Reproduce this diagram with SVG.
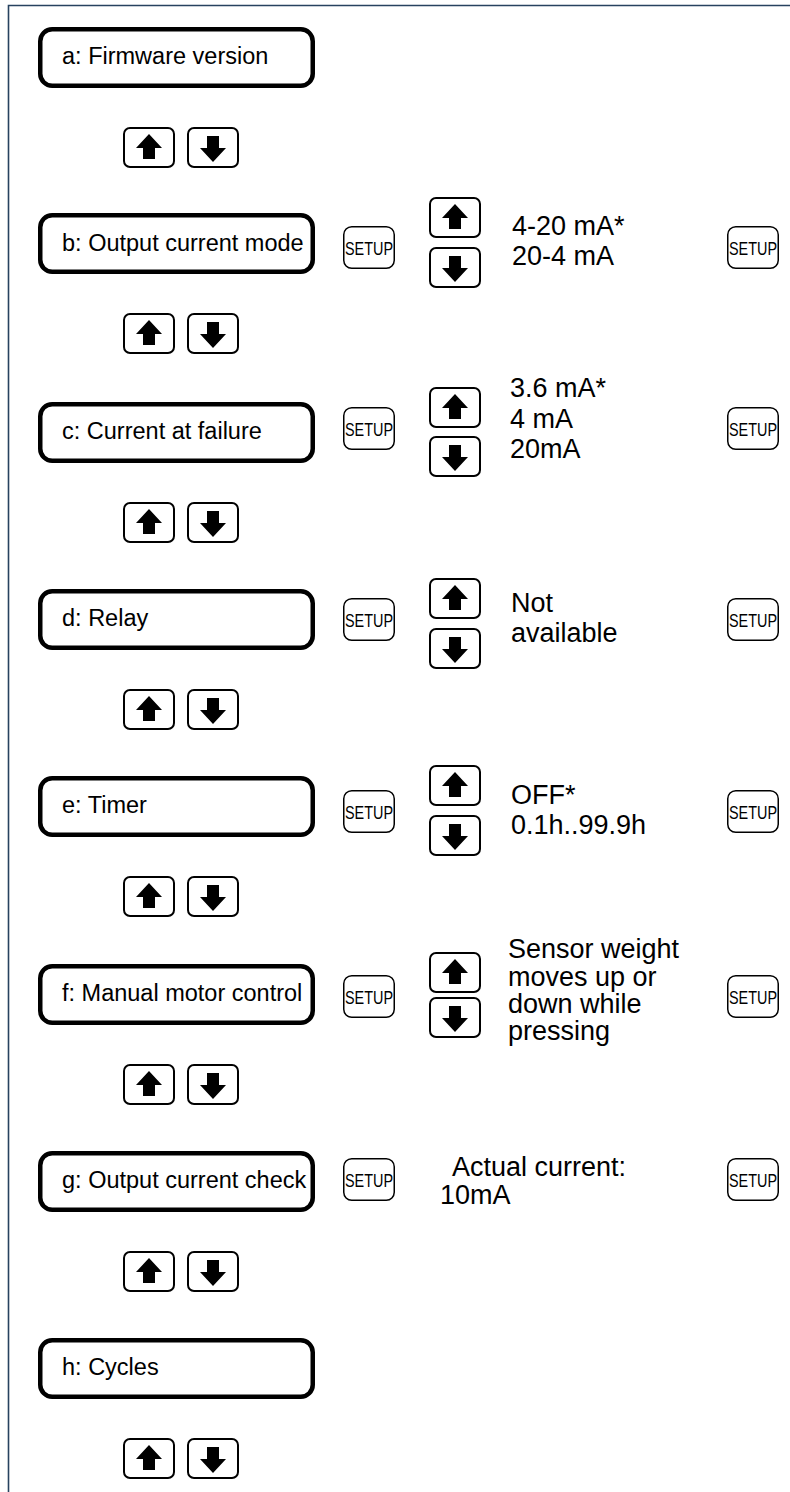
<svg xmlns="http://www.w3.org/2000/svg" xmlns:xlink="http://www.w3.org/1999/xlink" width="790" height="1492" viewBox="0 0 790 1492">
<style>
.frame{fill:none;stroke:#27425f;stroke-width:1.6}
.box{fill:#fff;stroke:#000;stroke-width:4.5}
.lbl{font-family:"Liberation Sans",Arial,sans-serif;font-size:23.5px;fill:#000}
.val{font-family:"Liberation Sans",Arial,sans-serif;font-size:27px;fill:#000}
.btn{fill:#fff;stroke:#000;stroke-width:2}
.sbtn{fill:#fff;stroke:#000;stroke-width:1.5}
.stxt{font-family:"Liberation Sans",Arial,sans-serif;font-size:18.5px;fill:#000}
.glyph{fill:#000}
</style>
<defs>
<g id="up"><rect class="btn" x="1" y="1" width="50" height="39" rx="6"/><polygon class="glyph" points="26,7 39,21 32,21 32,32 20,32 20,21 13,21"/></g>
<g id="down"><rect class="btn" x="1" y="1" width="50" height="39" rx="6"/><polygon class="glyph" points="20,9 32,9 32,21 39,21 26,35 13,21 20,21"/></g>
<g id="setup"><rect class="sbtn" x="0.75" y="0.75" width="50.5" height="41.5" rx="8"/><text class="stxt" x="2" y="28.5" textLength="48" lengthAdjust="spacingAndGlyphs">SETUP</text></g>
</defs>
<rect width="790" height="1492" fill="#fff"/>
<path class="frame" d="M8.5,1492 V5.5 H790"/>
<g id="connectors"/>

<g id="node-a">
<rect class="box" x="40.25" y="29.25" width="272.5" height="56.5" rx="12"/>
<text class="lbl" x="62" y="64">a: Firmware version</text>
<use xlink:href="#up" x="123" y="127"/><use xlink:href="#down" x="187" y="127"/>
</g>

<g id="node-b">
<rect class="box" x="40.25" y="215.25" width="272.5" height="56.5" rx="12"/>
<text class="lbl" x="62" y="251">b: Output current mode</text>
<use xlink:href="#up" x="123" y="313"/><use xlink:href="#down" x="187" y="313"/>
<use xlink:href="#setup" x="343" y="226"/>
<use xlink:href="#up" x="429" y="197"/><use xlink:href="#down" x="429" y="247"/>
<text class="val" x="512" y="235">4-20 mA*</text>
<text class="val" x="512" y="265">20-4 mA</text>
<use xlink:href="#setup" x="727" y="226"/>
</g>

<g id="node-c">
<rect class="box" x="40.25" y="404.25" width="272.5" height="56.5" rx="12"/>
<text class="lbl" x="62" y="439">c: Current at failure</text>
<use xlink:href="#up" x="123" y="502"/><use xlink:href="#down" x="187" y="502"/>
<use xlink:href="#setup" x="343" y="407"/>
<use xlink:href="#up" x="429" y="387"/><use xlink:href="#down" x="429" y="436"/>
<text class="val" x="510" y="397">3.6 mA*</text>
<text class="val" x="510" y="428">4 mA</text>
<text class="val" x="510" y="458">20mA</text>
<use xlink:href="#setup" x="727" y="407"/>
</g>

<g id="node-d">
<rect class="box" x="40.25" y="591.25" width="272.5" height="56.5" rx="12"/>
<text class="lbl" x="62" y="626">d: Relay</text>
<use xlink:href="#up" x="123" y="689"/><use xlink:href="#down" x="187" y="689"/>
<use xlink:href="#setup" x="343" y="598"/>
<use xlink:href="#up" x="429" y="578"/><use xlink:href="#down" x="429" y="628"/>
<text class="val" x="511" y="612">Not</text>
<text class="val" x="511" y="642">available</text>
<use xlink:href="#setup" x="727" y="598"/>
</g>

<g id="node-e">
<rect class="box" x="40.25" y="778.25" width="272.5" height="56.5" rx="12"/>
<text class="lbl" x="62" y="813">e: Timer</text>
<use xlink:href="#up" x="123" y="876"/><use xlink:href="#down" x="187" y="876"/>
<use xlink:href="#setup" x="343" y="790"/>
<use xlink:href="#up" x="429" y="765"/><use xlink:href="#down" x="429" y="815"/>
<text class="val" x="511" y="804">OFF*</text>
<text class="val" x="511" y="834">0.1h..99.9h</text>
<use xlink:href="#setup" x="727" y="790"/>
</g>

<g id="node-f">
<rect class="box" x="40.25" y="966.25" width="272.5" height="56.5" rx="12"/>
<text class="lbl" x="62" y="1001">f: Manual motor control</text>
<use xlink:href="#up" x="123" y="1064"/><use xlink:href="#down" x="187" y="1064"/>
<use xlink:href="#setup" x="343" y="975"/>
<use xlink:href="#up" x="429" y="952"/><use xlink:href="#down" x="429" y="997"/>
<text class="val" x="508" y="958">Sensor weight</text>
<text class="val" x="508" y="986">moves up or</text>
<text class="val" x="508" y="1013">down while</text>
<text class="val" x="508" y="1040">pressing</text>
<use xlink:href="#setup" x="727" y="975"/>
</g>

<g id="node-g">
<rect class="box" x="40.25" y="1153.25" width="272.5" height="56.5" rx="12"/>
<text class="lbl" x="62" y="1188">g: Output current check</text>
<use xlink:href="#up" x="123" y="1251"/><use xlink:href="#down" x="187" y="1251"/>
<use xlink:href="#setup" x="343" y="1158"/>
<text class="val" x="452" y="1176">Actual current:</text>
<text class="val" x="440" y="1204">10mA</text>
<use xlink:href="#setup" x="727" y="1158"/>
</g>

<g id="node-h">
<rect class="box" x="40.25" y="1340.25" width="272.5" height="56.5" rx="12"/>
<text class="lbl" x="62" y="1375">h: Cycles</text>
<use xlink:href="#up" x="123" y="1438"/><use xlink:href="#down" x="187" y="1438"/>
</g>
</svg>
